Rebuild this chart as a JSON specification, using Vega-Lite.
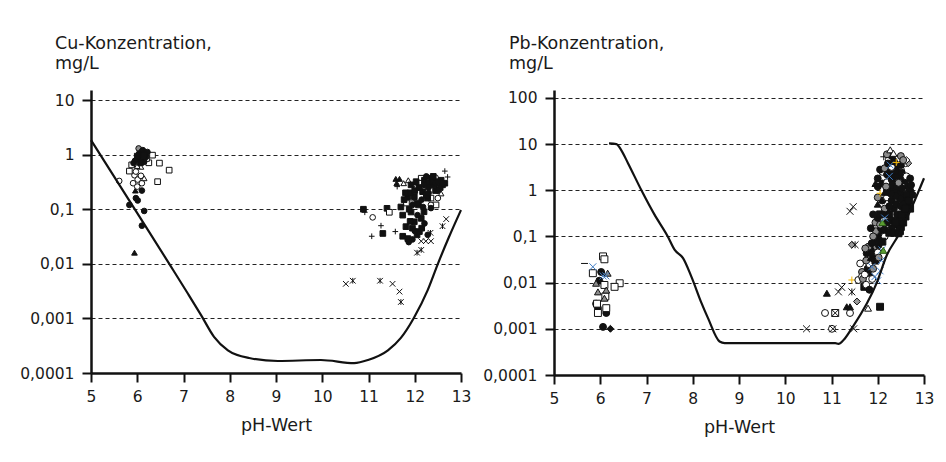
{
  "$schema": "https://vega.github.io/schema/vega-lite/v6.json",
  "background": "white",
  "padding": {"left": 19, "top": 34, "right": 5, "bottom": 5},
  "bounds": "flush",
  "spacing": 93,
  "config": {
    "font": "DejaVu Sans",
    "view": {"stroke": null},
    "axis": {
      "domainColor": "#111111", "domainWidth": 2.5,
      "tickColor": "#111111", "tickWidth": 2,
      "labelColor": "#1a1a1a", "labelFont": "DejaVu Sans", "labelFontSize": 15.5,
      "titleColor": "#1a1a1a", "titleFont": "DejaVu Sans", "titleFontSize": 17.5, "titleFontWeight": "normal",
      "labelFlush": false, "labelOverlap": false
    }
  },
  "resolve": {"scale": {"x": "independent", "y": "independent", "shape": "independent", "fill": "independent", "stroke": "independent"}},
  "datasets": {
    "cu_curve": [
      {"pH": 5, "Konz": 1.85}, {"pH": 6.0, "Konz": 0.085}, {"pH": 6.73, "Konz": 0.0089}, {"pH": 7.1, "Konz": 0.0028}, {"pH": 7.38, "Konz": 0.00115},
      {"pH": 7.66, "Konz": 0.00046}, {"pH": 7.96, "Konz": 0.00026}, {"pH": 8.42, "Konz": 0.000188}, {"pH": 9.04, "Konz": 0.000166},
      {"pH": 9.97, "Konz": 0.000173}, {"pH": 10.69, "Konz": 0.000152}, {"pH": 10.99, "Konz": 0.000173}, {"pH": 11.42, "Konz": 0.00026},
      {"pH": 11.7, "Konz": 0.00044}, {"pH": 11.98, "Konz": 0.00102}, {"pH": 12.28, "Konz": 0.0033}, {"pH": 12.5, "Konz": 0.01},
      {"pH": 12.74, "Konz": 0.031}, {"pH": 13, "Konz": 0.097}
    ],
    "pb_curve": [
      {"pH": 6.19, "Konz": 10.3}, {"pH": 6.35, "Konz": 10.0}, {"pH": 6.45, "Konz": 7.5}, {"pH": 6.6, "Konz": 3.85},
      {"pH": 6.89, "Konz": 1.0}, {"pH": 7.17, "Konz": 0.3}, {"pH": 7.46, "Konz": 0.1}, {"pH": 7.61, "Konz": 0.051},
      {"pH": 7.79, "Konz": 0.034}, {"pH": 7.97, "Konz": 0.0135}, {"pH": 8.19, "Konz": 0.0036}, {"pH": 8.33, "Konz": 0.0017},
      {"pH": 8.58, "Konz": 0.00053}, {"pH": 8.69, "Konz": 0.00049}, {"pH": 11.08, "Konz": 0.00049}, {"pH": 11.15, "Konz": 0.00047},
      {"pH": 11.26, "Konz": 0.00057}, {"pH": 11.44, "Konz": 0.00103}, {"pH": 11.98, "Konz": 0.01}, {"pH": 12.2, "Konz": 0.04},
      {"pH": 12.45, "Konz": 0.107}, {"pH": 12.74, "Konz": 0.44}, {"pH": 13, "Konz": 1.82}
    ],
    "cu_points": [
      {"pH": 5.61, "Konz": 0.33, "Serie": "A"},
      {"pH": 6.10, "Konz": 0.22, "Serie": "B"}, {"pH": 5.97, "Konz": 0.16, "Serie": "B"}, {"pH": 6.01, "Konz": 0.145, "Serie": "B"},
      {"pH": 5.83, "Konz": 0.12, "Serie": "B"}, {"pH": 6.15, "Konz": 0.093, "Serie": "B"}, {"pH": 6.10, "Konz": 0.05, "Serie": "B"},
      {"pH": 5.96, "Konz": 0.22, "Serie": "G"}, {"pH": 5.94, "Konz": 0.016, "Serie": "G"},
      {"pH": 5.94, "Konz": 0.42, "Serie": "A"}, {"pH": 6.01, "Konz": 0.35, "Serie": "A"}, {"pH": 5.91, "Konz": 0.30, "Serie": "A"},
      {"pH": 6.08, "Konz": 0.41, "Serie": "A"}, {"pH": 6.0, "Konz": 0.26, "Serie": "A"}, {"pH": 5.97, "Konz": 0.49, "Serie": "A"},
      {"pH": 6.10, "Konz": 0.30, "Serie": "A"},
      {"pH": 6.08, "Konz": 0.6, "Serie": "F"}, {"pH": 6.15, "Konz": 0.37, "Serie": "F"}, {"pH": 6.0, "Konz": 0.62, "Serie": "F"},
      {"pH": 5.83, "Konz": 0.50, "Serie": "D"}, {"pH": 6.25, "Konz": 0.71, "Serie": "D"}, {"pH": 6.48, "Konz": 0.7, "Serie": "D"},
      {"pH": 6.69, "Konz": 0.52, "Serie": "D"}, {"pH": 6.44, "Konz": 0.32, "Serie": "D"}, {"pH": 6.33, "Konz": 0.98, "Serie": "D"},
      {"pH": 5.88, "Konz": 0.65, "Serie": "D"}, {"pH": 6.2, "Konz": 0.85, "Serie": "D"},
      {"pH": 6.03, "Konz": 1.3, "Serie": "C"}, {"pH": 6.1, "Konz": 1.15, "Serie": "C"},
      {"pH": 6.12, "Konz": 1.21, "Serie": "B"}, {"pH": 6.17, "Konz": 1.08, "Serie": "B"}, {"pH": 6.08, "Konz": 0.98, "Serie": "B"},
      {"pH": 6.19, "Konz": 0.91, "Serie": "B"}, {"pH": 6.01, "Konz": 0.85, "Serie": "B"}, {"pH": 5.95, "Konz": 0.77, "Serie": "B"},
      {"pH": 5.92, "Konz": 0.70, "Serie": "B"}, {"pH": 6.12, "Konz": 0.80, "Serie": "B"}, {"pH": 6.04, "Konz": 1.05, "Serie": "B"},
      {"pH": 6.22, "Konz": 1.12, "Serie": "B"}, {"pH": 6.15, "Konz": 0.74, "Serie": "B"},
      {"pH": 6.0, "Konz": 0.94, "Serie": "E"}, {"pH": 6.14, "Konz": 0.98, "Serie": "E"}, {"pH": 6.07, "Konz": 0.71, "Serie": "E"},
      {"pH": 10.89, "Konz": 0.1, "Serie": "E"}, {"pH": 10.92, "Konz": 0.088, "Serie": "I"}, {"pH": 11.09, "Konz": 0.071, "Serie": "A"},
      {"pH": 11.27, "Konz": 0.050, "Serie": "I"}, {"pH": 11.07, "Konz": 0.032, "Serie": "I"}, {"pH": 11.31, "Konz": 0.036, "Serie": "E"},
      {"pH": 11.58, "Konz": 0.039, "Serie": "I"}, {"pH": 11.40, "Konz": 0.104, "Serie": "E"}, {"pH": 11.45, "Konz": 0.088, "Serie": "D"},
      {"pH": 11.59, "Konz": 0.36, "Serie": "G"}, {"pH": 11.67, "Konz": 0.36, "Serie": "G"}, {"pH": 11.61, "Konz": 0.30, "Serie": "G"},
      {"pH": 11.76, "Konz": 0.30, "Serie": "F"}, {"pH": 11.62, "Konz": 0.26, "Serie": "I"},
      {"pH": 12.65, "Konz": 0.50, "Serie": "I"}, {"pH": 12.71, "Konz": 0.39, "Serie": "I"}, {"pH": 12.57, "Konz": 0.195, "Serie": "F"},
      {"pH": 11.92, "Konz": 0.16, "Serie": "D"}, {"pH": 12.35, "Konz": 0.16, "Serie": "D"}, {"pH": 12.46, "Konz": 0.12, "Serie": "D"},
      {"pH": 12.14, "Konz": 0.37, "Serie": "D"}, {"pH": 11.82, "Konz": 0.13, "Serie": "D"}, {"pH": 12.1, "Konz": 0.3, "Serie": "D"},
      {"pH": 12.35, "Konz": 0.12, "Serie": "A"}, {"pH": 12.28, "Konz": 0.26, "Serie": "A"}, {"pH": 12.50, "Konz": 0.16, "Serie": "A"},
      {"pH": 12.03, "Konz": 0.24, "Serie": "A"}, {"pH": 11.86, "Konz": 0.34, "Serie": "F"}, {"pH": 12.45, "Konz": 0.38, "Serie": "A"},
      {"pH": 11.70, "Konz": 0.11, "Serie": "E"}, {"pH": 11.74, "Konz": 0.078, "Serie": "E"}, {"pH": 11.81, "Konz": 0.048, "Serie": "E"},
      {"pH": 11.74, "Konz": 0.032, "Serie": "E"}, {"pH": 11.85, "Konz": 0.029, "Serie": "E"}, {"pH": 12.05, "Konz": 0.034, "Serie": "E"},
      {"pH": 12.10, "Konz": 0.039, "Serie": "E"}, {"pH": 11.99, "Konz": 0.059, "Serie": "E"}, {"pH": 11.92, "Konz": 0.089, "Serie": "E"},
      {"pH": 12.14, "Konz": 0.068, "Serie": "E"}, {"pH": 12.08, "Konz": 0.12, "Serie": "E"}, {"pH": 12.28, "Konz": 0.16, "Serie": "E"},
      {"pH": 12.42, "Konz": 0.28, "Serie": "E"}, {"pH": 12.57, "Konz": 0.34, "Serie": "E"}, {"pH": 12.35, "Konz": 0.37, "Serie": "E"},
      {"pH": 12.21, "Konz": 0.34, "Serie": "E"}, {"pH": 12.03, "Konz": 0.32, "Serie": "E"}, {"pH": 11.92, "Konz": 0.28, "Serie": "E"},
      {"pH": 11.85, "Konz": 0.17, "Serie": "E"}, {"pH": 11.99, "Konz": 0.17, "Serie": "E"}, {"pH": 12.17, "Konz": 0.21, "Serie": "E"},
      {"pH": 11.77, "Konz": 0.15, "Serie": "E"},
      {"pH": 11.9, "Konz": 0.2, "Serie": "E"}, {"pH": 12.0, "Konz": 0.22, "Serie": "E"}, {"pH": 12.1, "Konz": 0.25, "Serie": "E"},
      {"pH": 12.3, "Konz": 0.3, "Serie": "E"}, {"pH": 12.4, "Konz": 0.33, "Serie": "E"}, {"pH": 12.6, "Konz": 0.28, "Serie": "E"},
      {"pH": 12.25, "Konz": 0.18, "Serie": "E"}, {"pH": 12.05, "Konz": 0.13, "Serie": "E"}, {"pH": 11.9, "Konz": 0.06, "Serie": "E"},
      {"pH": 11.95, "Konz": 0.045, "Serie": "E"}, {"pH": 12.15, "Konz": 0.045, "Serie": "E"}, {"pH": 12.2, "Konz": 0.09, "Serie": "E"},
      {"pH": 12.45, "Konz": 0.22, "Serie": "E"}, {"pH": 12.55, "Konz": 0.25, "Serie": "E"}, {"pH": 12.65, "Konz": 0.3, "Serie": "E"},
      {"pH": 12.4, "Konz": 0.4, "Serie": "E"}, {"pH": 11.8, "Konz": 0.2, "Serie": "E"}, {"pH": 11.88, "Konz": 0.1, "Serie": "E"},
      {"pH": 11.87, "Konz": 0.025, "Serie": "B"}, {"pH": 11.95, "Konz": 0.028, "Serie": "B"}, {"pH": 12.28, "Konz": 0.034, "Serie": "B"},
      {"pH": 12.21, "Konz": 0.055, "Serie": "B"}, {"pH": 12.06, "Konz": 0.078, "Serie": "B"}, {"pH": 12.35, "Konz": 0.105, "Serie": "B"},
      {"pH": 12.50, "Konz": 0.22, "Serie": "B"}, {"pH": 12.45, "Konz": 0.3, "Serie": "B"}, {"pH": 12.6, "Konz": 0.3, "Serie": "B"},
      {"pH": 12.3, "Konz": 0.25, "Serie": "B"}, {"pH": 12.2, "Konz": 0.28, "Serie": "B"}, {"pH": 12.5, "Konz": 0.32, "Serie": "B"},
      {"pH": 12.15, "Konz": 0.15, "Serie": "B"}, {"pH": 11.95, "Konz": 0.12, "Serie": "B"}, {"pH": 12.0, "Konz": 0.04, "Serie": "B"},
      {"pH": 12.3, "Konz": 0.2, "Serie": "B"}, {"pH": 12.25, "Konz": 0.4, "Serie": "B"}, {"pH": 12.18, "Konz": 0.11, "Serie": "B"},
      {"pH": 12.35, "Konz": 0.026, "Serie": "J"}, {"pH": 12.24, "Konz": 0.026, "Serie": "J"}, {"pH": 12.14, "Konz": 0.026, "Serie": "J"},
      {"pH": 12.68, "Konz": 0.066, "Serie": "J"},
      {"pH": 12.34, "Konz": 0.037, "Serie": "K"}, {"pH": 12.14, "Konz": 0.018, "Serie": "K"}, {"pH": 12.05, "Konz": 0.016, "Serie": "K"},
      {"pH": 12.60, "Konz": 0.049, "Serie": "K"},
      {"pH": 10.51, "Konz": 0.0043, "Serie": "J"}, {"pH": 10.66, "Konz": 0.0049, "Serie": "K"}, {"pH": 11.25, "Konz": 0.0049, "Serie": "K"},
      {"pH": 11.52, "Konz": 0.0043, "Serie": "J"}, {"pH": 11.67, "Konz": 0.0031, "Serie": "J"}, {"pH": 11.70, "Konz": 0.0020, "Serie": "K"}
    ],
    "pb_points": [
      {"pH": 5.66, "Konz": 0.026, "Serie": "Q"},
      {"pH": 6.02, "Konz": 0.017, "Serie": "B"}, {"pH": 5.98, "Konz": 0.011, "Serie": "B"}, {"pH": 5.95, "Konz": 0.0028, "Serie": "B"},
      {"pH": 6.13, "Konz": 0.0022, "Serie": "B"}, {"pH": 6.06, "Konz": 0.0011, "Serie": "B"}, {"pH": 6.22, "Konz": 0.001, "Serie": "L"},
      {"pH": 5.91, "Konz": 0.0035, "Serie": "B"},
      {"pH": 6.06, "Konz": 0.037, "Serie": "D"}, {"pH": 6.09, "Konz": 0.032, "Serie": "D"}, {"pH": 5.84, "Konz": 0.016, "Serie": "D"},
      {"pH": 6.42, "Konz": 0.0097, "Serie": "D"}, {"pH": 6.31, "Konz": 0.0081, "Serie": "D"}, {"pH": 6.09, "Konz": 0.0089, "Serie": "D"},
      {"pH": 5.95, "Konz": 0.0022, "Serie": "D"}, {"pH": 6.13, "Konz": 0.0028, "Serie": "D"}, {"pH": 5.93, "Konz": 0.0035, "Serie": "D"},
      {"pH": 6.11, "Konz": 0.005, "Serie": "D"},
      {"pH": 6.16, "Konz": 0.016, "Serie": "H"}, {"pH": 5.95, "Konz": 0.0063, "Serie": "H"}, {"pH": 6.13, "Konz": 0.0069, "Serie": "H"},
      {"pH": 6.09, "Konz": 0.0046, "Serie": "H"}, {"pH": 5.91, "Konz": 0.0097, "Serie": "H"},
      {"pH": 5.84, "Konz": 0.022, "Serie": "N"}, {"pH": 6.06, "Konz": 0.014, "Serie": "N"}, {"pH": 6.12, "Konz": 0.014, "Serie": "N"},
      {"pH": 10.46, "Konz": 0.001, "Serie": "J"}, {"pH": 11.01, "Konz": 0.001, "Serie": "A"}, {"pH": 11.03, "Konz": 0.001, "Serie": "J"},
      {"pH": 11.48, "Konz": 0.001, "Serie": "J"},
      {"pH": 10.86, "Konz": 0.0022, "Serie": "A"}, {"pH": 11.08, "Konz": 0.0022, "Serie": "D"}, {"pH": 11.08, "Konz": 0.0022, "Serie": "J"},
      {"pH": 11.40, "Konz": 0.0022, "Serie": "A"},
      {"pH": 10.90, "Konz": 0.0059, "Serie": "G"}, {"pH": 11.15, "Konz": 0.0063, "Serie": "J"}, {"pH": 11.22, "Konz": 0.0079, "Serie": "J"},
      {"pH": 11.44, "Konz": 0.0063, "Serie": "K"}, {"pH": 11.33, "Konz": 0.0030, "Serie": "G"}, {"pH": 11.40, "Konz": 0.0030, "Serie": "G"},
      {"pH": 11.79, "Konz": 0.0028, "Serie": "F"}, {"pH": 11.55, "Konz": 0.0039, "Serie": "M"}, {"pH": 12.05, "Konz": 0.0030, "Serie": "E"},
      {"pH": 11.71, "Konz": 0.0081, "Serie": "E"}, {"pH": 11.44, "Konz": 0.0114, "Serie": "O"}, {"pH": 11.58, "Konz": 0.0114, "Serie": "A"},
      {"pH": 11.62, "Konz": 0.026, "Serie": "A"}, {"pH": 11.66, "Konz": 0.017, "Serie": "C"}, {"pH": 11.66, "Konz": 0.0135, "Serie": "A"},
      {"pH": 11.83, "Konz": 0.016, "Serie": "G"},
      {"pH": 11.68, "Konz": 0.012, "Serie": "C"}, {"pH": 11.72, "Konz": 0.015, "Serie": "A"}, {"pH": 11.78, "Konz": 0.02, "Serie": "B"},
      {"pH": 11.82, "Konz": 0.025, "Serie": "A"}, {"pH": 11.75, "Konz": 0.03, "Serie": "C"}, {"pH": 11.85, "Konz": 0.035, "Serie": "G"},
      {"pH": 11.9, "Konz": 0.04, "Serie": "B"}, {"pH": 11.95, "Konz": 0.03, "Serie": "E"}, {"pH": 12.0, "Konz": 0.045, "Serie": "A"},
      {"pH": 11.92, "Konz": 0.06, "Serie": "C"}, {"pH": 12.02, "Konz": 0.065, "Serie": "B"}, {"pH": 12.05, "Konz": 0.09, "Serie": "G"},
      {"pH": 11.98, "Konz": 0.1, "Serie": "B"}, {"pH": 12.1, "Konz": 0.12, "Serie": "E"}, {"pH": 12.15, "Konz": 0.1, "Serie": "A"},
      {"pH": 11.96, "Konz": 0.13, "Serie": "C"}, {"pH": 12.07, "Konz": 0.15, "Serie": "B"},
      {"pH": 11.85, "Konz": 0.05, "Serie": "B"}, {"pH": 11.95, "Konz": 0.08, "Serie": "B"}, {"pH": 12.02, "Konz": 0.035, "Serie": "C"},
      {"pH": 11.8, "Konz": 0.06, "Serie": "C"}, {"pH": 11.88, "Konz": 0.012, "Serie": "A"}, {"pH": 11.75, "Konz": 0.009, "Serie": "A"},
      {"pH": 11.82, "Konz": 0.007, "Serie": "B"}, {"pH": 11.9, "Konz": 0.02, "Serie": "C"},
      {"pH": 11.76, "Konz": 0.043, "Serie": "B"}, {"pH": 11.73, "Konz": 0.055, "Serie": "C"}, {"pH": 11.44, "Konz": 0.066, "Serie": "M"},
      {"pH": 11.51, "Konz": 0.066, "Serie": "K"}, {"pH": 11.87, "Konz": 0.071, "Serie": "B"},
      {"pH": 11.40, "Konz": 0.35, "Serie": "J"}, {"pH": 11.47, "Konz": 0.44, "Serie": "J"},
      {"pH": 11.95, "Konz": 0.2, "Serie": "C"}, {"pH": 12.0, "Konz": 0.25, "Serie": "B"}, {"pH": 12.05, "Konz": 0.3, "Serie": "E"},
      {"pH": 12.2, "Konz": 0.35, "Serie": "B"}, {"pH": 12.25, "Konz": 0.3, "Serie": "E"}, {"pH": 12.3, "Konz": 0.22, "Serie": "E"},
      {"pH": 12.4, "Konz": 0.18, "Serie": "E"}, {"pH": 12.5, "Konz": 0.16, "Serie": "E"}, {"pH": 12.55, "Konz": 0.2, "Serie": "E"},
      {"pH": 12.6, "Konz": 0.27, "Serie": "E"}, {"pH": 12.45, "Konz": 0.25, "Serie": "B"}, {"pH": 12.35, "Konz": 0.4, "Serie": "B"},
      {"pH": 12.0, "Konz": 0.5, "Serie": "G"}, {"pH": 12.1, "Konz": 0.6, "Serie": "B"}, {"pH": 12.2, "Konz": 0.7, "Serie": "A"},
      {"pH": 12.3, "Konz": 0.6, "Serie": "B"}, {"pH": 12.4, "Konz": 0.5, "Serie": "B"}, {"pH": 12.5, "Konz": 0.45, "Serie": "B"},
      {"pH": 12.6, "Konz": 0.6, "Serie": "B"}, {"pH": 12.65, "Konz": 0.5, "Serie": "E"}, {"pH": 12.7, "Konz": 0.9, "Serie": "B"},
      {"pH": 12.55, "Konz": 0.8, "Serie": "B"}, {"pH": 12.45, "Konz": 0.9, "Serie": "B"}, {"pH": 12.35, "Konz": 1.0, "Serie": "B"},
      {"pH": 12.25, "Konz": 1.1, "Serie": "B"}, {"pH": 12.0, "Konz": 1.2, "Serie": "B"}, {"pH": 11.95, "Konz": 1.4, "Serie": "G"},
      {"pH": 12.1, "Konz": 1.4, "Serie": "B"}, {"pH": 12.2, "Konz": 1.5, "Serie": "A"}, {"pH": 12.3, "Konz": 1.7, "Serie": "B"},
      {"pH": 12.4, "Konz": 1.5, "Serie": "B"}, {"pH": 12.5, "Konz": 1.4, "Serie": "A"}, {"pH": 12.6, "Konz": 1.3, "Serie": "R"},
      {"pH": 12.65, "Konz": 1.2, "Serie": "B"}, {"pH": 12.7, "Konz": 1.0, "Serie": "B"}, {"pH": 12.55, "Konz": 2.0, "Serie": "B"},
      {"pH": 12.45, "Konz": 2.2, "Serie": "B"}, {"pH": 12.35, "Konz": 2.3, "Serie": "B"}, {"pH": 12.1, "Konz": 2.5, "Serie": "A"},
      {"pH": 12.05, "Konz": 2.8, "Serie": "B"}, {"pH": 12.15, "Konz": 3.0, "Serie": "C"}, {"pH": 12.38, "Konz": 3.0, "Serie": "B"},
      {"pH": 12.5, "Konz": 2.8, "Serie": "A"}, {"pH": 12.6, "Konz": 3.85, "Serie": "A"}, {"pH": 12.66, "Konz": 3.85, "Serie": "M"},
      {"pH": 12.45, "Konz": 4.9, "Serie": "A"}, {"pH": 12.24, "Konz": 4.6, "Serie": "A"}, {"pH": 12.13, "Konz": 5.3, "Serie": "I"},
      {"pH": 12.3, "Konz": 5.5, "Serie": "B"}, {"pH": 12.2, "Konz": 6.0, "Serie": "C"}, {"pH": 12.5, "Konz": 5.5, "Serie": "C"},
      {"pH": 12.62, "Konz": 4.5, "Serie": "R"}, {"pH": 12.0, "Konz": 1.8, "Serie": "B"}, {"pH": 12.15, "Konz": 0.4, "Serie": "C"},
      {"pH": 12.58, "Konz": 0.35, "Serie": "E"}, {"pH": 12.48, "Konz": 0.13, "Serie": "E"}, {"pH": 12.65, "Konz": 0.7, "Serie": "B"},
      {"pH": 12.7, "Konz": 0.4, "Serie": "E"}, {"pH": 11.9, "Konz": 0.3, "Serie": "B"}, {"pH": 11.85, "Konz": 0.15, "Serie": "B"},
      {"pH": 11.9, "Konz": 0.1, "Serie": "C"}, {"pH": 12.0, "Konz": 0.7, "Serie": "C"},
      {"pH": 12.3, "Konz": 0.15, "Serie": "B"}, {"pH": 12.38, "Konz": 0.2, "Serie": "E"}, {"pH": 12.42, "Konz": 0.3, "Serie": "B"},
      {"pH": 12.52, "Konz": 0.3, "Serie": "E"}, {"pH": 12.55, "Konz": 0.5, "Serie": "B"}, {"pH": 12.62, "Konz": 0.8, "Serie": "B"},
      {"pH": 12.48, "Konz": 0.65, "Serie": "B"}, {"pH": 12.38, "Konz": 0.75, "Serie": "B"}, {"pH": 12.28, "Konz": 0.85, "Serie": "B"},
      {"pH": 12.2, "Konz": 1.0, "Serie": "B"}, {"pH": 12.32, "Konz": 1.3, "Serie": "B"}, {"pH": 12.42, "Konz": 1.2, "Serie": "B"},
      {"pH": 12.52, "Konz": 1.1, "Serie": "B"}, {"pH": 12.58, "Konz": 1.6, "Serie": "B"}, {"pH": 12.48, "Konz": 1.8, "Serie": "B"},
      {"pH": 12.38, "Konz": 1.9, "Serie": "B"}, {"pH": 12.28, "Konz": 2.5, "Serie": "B"}, {"pH": 12.2, "Konz": 2.2, "Serie": "B"},
      {"pH": 12.4, "Konz": 2.7, "Serie": "B"}, {"pH": 12.52, "Konz": 2.4, "Serie": "B"}, {"pH": 12.3, "Konz": 3.2, "Serie": "A"},
      {"pH": 12.22, "Konz": 3.8, "Serie": "B"}, {"pH": 12.35, "Konz": 4.2, "Serie": "B"}, {"pH": 12.5, "Konz": 3.5, "Serie": "B"},
      {"pH": 12.55, "Konz": 4.5, "Serie": "C"}, {"pH": 12.18, "Konz": 1.2, "Serie": "C"}, {"pH": 12.25, "Konz": 0.45, "Serie": "B"},
      {"pH": 12.1, "Konz": 0.3, "Serie": "B"}, {"pH": 12.2, "Konz": 0.2, "Serie": "B"}, {"pH": 12.6, "Konz": 0.4, "Serie": "E"},
      {"pH": 12.68, "Konz": 0.6, "Serie": "E"}, {"pH": 12.72, "Konz": 1.3, "Serie": "B"}, {"pH": 12.75, "Konz": 0.8, "Serie": "B"},
      {"pH": 12.05, "Konz": 0.18, "Serie": "C"}, {"pH": 12.15, "Konz": 0.14, "Serie": "B"}, {"pH": 12.25, "Konz": 0.12, "Serie": "E"},
      {"pH": 12.35, "Konz": 0.12, "Serie": "B"}, {"pH": 12.62, "Konz": 2.0, "Serie": "A"}, {"pH": 12.7, "Konz": 1.8, "Serie": "B"},
      {"pH": 12.45, "Konz": 1.45, "Serie": "C"},
      {"pH": 12.0, "Konz": 0.011, "Serie": "N"}, {"pH": 12.05, "Konz": 0.018, "Serie": "N"}, {"pH": 12.08, "Konz": 0.03, "Serie": "N"},
      {"pH": 11.87, "Konz": 0.022, "Serie": "N"}, {"pH": 11.94, "Konz": 0.0135, "Serie": "N"}, {"pH": 12.09, "Konz": 0.051, "Serie": "N"},
      {"pH": 12.12, "Konz": 0.05, "Serie": "P"}, {"pH": 12.1, "Konz": 0.2, "Serie": "P"}, {"pH": 12.15, "Konz": 0.25, "Serie": "N"},
      {"pH": 12.25, "Konz": 2.0, "Serie": "N"}, {"pH": 12.27, "Konz": 3.5, "Serie": "N"}, {"pH": 12.05, "Konz": 0.86, "Serie": "O"},
      {"pH": 12.4, "Konz": 4.0, "Serie": "O"}, {"pH": 12.15, "Konz": 0.9, "Serie": "G"},
      {"pH": 12.27, "Konz": 7.5, "Serie": "F"}, {"pH": 12.34, "Konz": 6.3, "Serie": "F"}, {"pH": 12.10, "Konz": 0.077, "Serie": "E"},
      {"pH": 12.45, "Konz": 0.117, "Serie": "E"}
    ]
  },
  "hconcat": [
    {
      "width": 370,
      "height": 283,
      "title": {"text": ["Cu-Konzentration,", "mg/L"], "anchor": "start", "frame": "group", "dx": -36, "offset": 18, "fontSize": 17.5, "fontWeight": "normal", "lineHeight": 20, "color": "#1a1a1a", "font": "DejaVu Sans"},
      "layer": [
        {
          "data": {"name": "cu_points"},
          "mark": {"type": "point", "filled": true, "opacity": 1, "size": 32, "strokeWidth": 1},
          "encoding": {
            "x": {"field": "pH", "type": "quantitative", "scale": {"domain": [5, 13], "nice": false, "zero": false},
                  "axis": {"values": [5, 6, 7, 8, 9, 10, 11, 12, 13], "format": "d", "grid": false, "tickSize": 9, "labelPadding": 7, "title": "pH-Wert", "titlePadding": 12}},
            "y": {"field": "Konz", "type": "quantitative", "scale": {"type": "log", "domain": [0.0001, 15.3], "nice": false},
                  "axis": {"values": [0.0001, 0.001, 0.01, 0.1, 1, 10], "grid": true, "gridDash": [4, 3], "gridColor": "#222222", "gridWidth": 1, "tickSize": 9, "labelPadding": 8, "title": null,
                           "labelExpr": "datum.value >= 1 ? format(datum.value, 'd') : replace(format(datum.value, '.4~f'), '.', ',')"}},
            "shape": {"field": "Serie", "type": "nominal", "legend": null,
                      "scale": {"domain": ["A","B","C","D","E","F","G","H","I","J","K","L","M","N","O","P","Q","R"],
                                "range": ["circle","circle","circle","square","square","triangle-up","triangle-up","triangle-up","M-1,0L1,0M0,-1L0,1","M-1,-1L1,1M-1,1L1,-1","M-1,-1L1,1M-1,1L1,-1M0,-1L0,1","diamond","diamond","M-1,-1L1,1M-1,1L1,-1","M-1,0L1,0M0,-1L0,1","triangle-up","stroke","diamond"]}},
            "fill": {"field": "Serie", "type": "nominal", "legend": null,
                     "scale": {"domain": ["A","B","C","D","E","F","G","H","I","J","K","L","M","N","O","P","Q","R"],
                               "range": ["#ffffff","#111111","#8c8c8c","#ffffff","#111111","#ffffff","#111111","#8c8c8c","transparent","transparent","transparent","#111111","#9a9a9a","transparent","transparent","#5a9e32","#111111","#ffffff"]}},
            "stroke": {"field": "Serie", "type": "nominal", "legend": null,
                       "scale": {"domain": ["A","B","C","D","E","F","G","H","I","J","K","L","M","N","O","P","Q","R"],
                                 "range": ["#111111","#111111","#111111","#111111","#111111","#111111","#111111","#111111","#111111","#111111","#111111","#111111","#111111","#3f7cc4","#f2b705","#2f5e1a","#111111","#111111"]}}
          }
        },
        {
          "data": {"name": "cu_curve"},
          "mark": {"type": "line", "color": "#111111", "strokeWidth": 2.2, "interpolate": "monotone"},
          "encoding": {
            "x": {"field": "pH", "type": "quantitative"},
            "y": {"field": "Konz", "type": "quantitative"}
          }
        }
      ]
    },
    {
      "width": 370,
      "height": 285,
      "title": {"text": ["Pb-Konzentration,", "mg/L"], "anchor": "start", "frame": "group", "dx": -45, "offset": 18, "fontSize": 17.5, "fontWeight": "normal", "lineHeight": 20, "color": "#1a1a1a", "font": "DejaVu Sans"},
      "layer": [
        {
          "data": {"name": "pb_points"},
          "mark": {"type": "point", "filled": true, "opacity": 1, "size": 48, "strokeWidth": 1},
          "encoding": {
            "x": {"field": "pH", "type": "quantitative", "scale": {"domain": [5, 13], "nice": false, "zero": false},
                  "axis": {"values": [5, 6, 7, 8, 9, 10, 11, 12, 13], "format": "d", "grid": false, "tickSize": 9, "labelPadding": 7, "title": "pH-Wert", "titlePadding": 12}},
            "y": {"field": "Konz", "type": "quantitative", "scale": {"type": "log", "domain": [0.0001, 148], "nice": false},
                  "axis": {"values": [0.0001, 0.001, 0.01, 0.1, 1, 10, 100], "grid": true, "gridDash": [4, 3], "gridColor": "#222222", "gridWidth": 1, "tickSize": 9, "labelPadding": 8, "title": null,
                           "labelExpr": "datum.value >= 1 ? format(datum.value, 'd') : replace(format(datum.value, '.4~f'), '.', ',')"}},
            "shape": {"field": "Serie", "type": "nominal", "legend": null,
                      "scale": {"domain": ["A","B","C","D","E","F","G","H","I","J","K","L","M","N","O","P","Q","R"],
                                "range": ["circle","circle","circle","square","square","triangle-up","triangle-up","triangle-up","M-1,0L1,0M0,-1L0,1","M-1,-1L1,1M-1,1L1,-1","M-1,-1L1,1M-1,1L1,-1M0,-1L0,1","diamond","diamond","M-1,-1L1,1M-1,1L1,-1","M-1,0L1,0M0,-1L0,1","triangle-up","stroke","diamond"]}},
            "fill": {"field": "Serie", "type": "nominal", "legend": null,
                     "scale": {"domain": ["A","B","C","D","E","F","G","H","I","J","K","L","M","N","O","P","Q","R"],
                               "range": ["#ffffff","#111111","#8c8c8c","#ffffff","#111111","#ffffff","#111111","#8c8c8c","transparent","transparent","transparent","#111111","#9a9a9a","transparent","transparent","#5a9e32","#111111","#ffffff"]}},
            "stroke": {"field": "Serie", "type": "nominal", "legend": null,
                       "scale": {"domain": ["A","B","C","D","E","F","G","H","I","J","K","L","M","N","O","P","Q","R"],
                                 "range": ["#111111","#111111","#111111","#111111","#111111","#111111","#111111","#111111","#111111","#111111","#111111","#111111","#111111","#3f7cc4","#f2b705","#2f5e1a","#111111","#111111"]}}
          }
        },
        {
          "data": {"name": "pb_curve"},
          "mark": {"type": "line", "color": "#111111", "strokeWidth": 2.2, "interpolate": "monotone"},
          "encoding": {
            "x": {"field": "pH", "type": "quantitative"},
            "y": {"field": "Konz", "type": "quantitative"}
          }
        }
      ]
    }
  ]
}
